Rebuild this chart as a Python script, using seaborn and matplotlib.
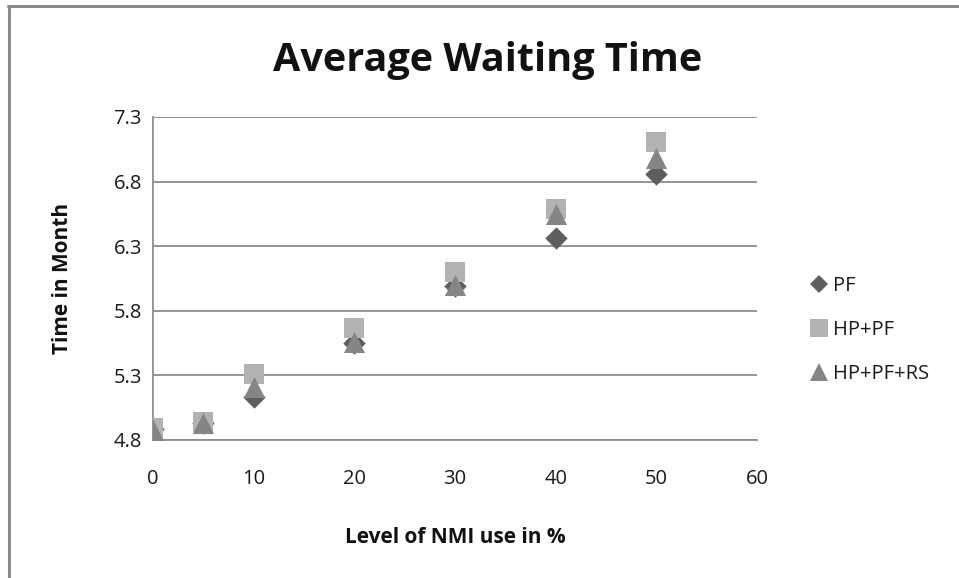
import matplotlib
matplotlib.use("Agg")
import matplotlib.pyplot as plt
import seaborn as sns
import pandas as pd
from matplotlib.lines import Line2D

# Data
levels = [0, 5, 10, 20, 30, 40, 50]
pf = [4.885, 4.93, 5.13, 5.55, 5.99, 6.36, 6.86]
hp_pf = [4.89, 4.94, 5.31, 5.67, 6.10, 6.59, 7.11]
hp_pf_rs = [4.88, 4.93, 5.21, 5.56, 6.00, 6.55, 6.98]
series_names = ["PF", "HP+PF", "HP+PF+RS"]
y_ticks = [4.8, 5.3, 5.8, 6.3, 6.8, 7.3]
x_ticks = [0, 10, 20, 30, 40, 50, 60]

df = pd.DataFrame({
    "level": levels * 3,
    "time": pf + hp_pf + hp_pf_rs,
    "series": [series_names[0]] * 7 + [series_names[1]] * 7 + [series_names[2]] * 7,
})

sns.set_theme(style="white")
plt.rcParams["font.family"] = ["Open Sans", "DejaVu Sans"]

fig = plt.figure(figsize=(9.59, 5.78), dpi=100)
ax = fig.add_axes([153 / 959, 1 - 440 / 578, (757 - 153) / 959, (440 - 117) / 578])

palette = {"PF": "#5e5e5e", "HP+PF": "#b2b2b2", "HP+PF+RS": "#858585"}
markers = {"PF": "D", "HP+PF": "s", "HP+PF+RS": "^"}
sizes = {"PF": 130, "HP+PF": 200, "HP+PF+RS": 230}

for name in series_names:
    sub = df[df["series"] == name]
    sns.scatterplot(data=sub, x="level", y="time", ax=ax, color=palette[name],
                    marker=markers[name], s=sizes[name], linewidth=0,
                    label=name, zorder=3, legend=False)

ax.set_xlim(0, 60)
ax.set_ylim(4.8, 7.3)
ax.set_xticks(x_ticks)
ax.set_yticks(y_ticks)
ax.set_yticklabels([f"{v:.1f}" for v in y_ticks])
ax.tick_params(axis="both", length=0, labelsize=14.5, colors="#1a1a1a")
ax.tick_params(axis="x", pad=21)
ax.tick_params(axis="y", pad=8)
ax.yaxis.grid(True, color="#8c8c8c", linewidth=1.3)
ax.xaxis.grid(False)
ax.set_axisbelow(True)
for side in ["top", "right"]:
    ax.spines[side].set_visible(False)
for side in ["left", "bottom"]:
    ax.spines[side].set_color("#8c8c8c")
    ax.spines[side].set_linewidth(1.3)
ax.spines["bottom"].set_zorder(0.5)

ax.set_xlabel("Level of NMI use in %", fontsize=15, fontweight="bold", labelpad=27,
              color="#111111")
ax.set_ylabel("Time in Month", fontsize=15, fontweight="bold", labelpad=29,
              color="#111111")
fig.text(488 / 959, 1 - 60 / 578, "Average Waiting Time", ha="center", va="center",
         fontsize=28.5, fontweight="bold", color="#111111")

handles = [Line2D([], [], linestyle="none", marker=markers[n], color=palette[n],
                  markersize={"PF": 9, "HP+PF": 13, "HP+PF+RS": 13}[n], markeredgewidth=0)
           for n in series_names]
leg = fig.legend(handles, series_names, loc="center left",
                 bbox_to_anchor=(793 / 959, 1 - 330 / 578), frameon=False,
                 fontsize=14.5, handlelength=0.8, handletextpad=0.3, labelspacing=1.18)
for t in leg.get_texts():
    t.set_color("#1a1a1a")

# outer chart border (top and left only visible)
fig.add_artist(Line2D([9 / 959, 9 / 959], [0, 1 - 6 / 578], color="#8c8c8c", linewidth=2.2,
                      transform=fig.transFigure))
fig.add_artist(Line2D([8 / 959, 1], [1 - 6 / 578, 1 - 6 / 578], color="#8c8c8c", linewidth=2.2,
                      transform=fig.transFigure))

fig.savefig("out.png", dpi=100)
